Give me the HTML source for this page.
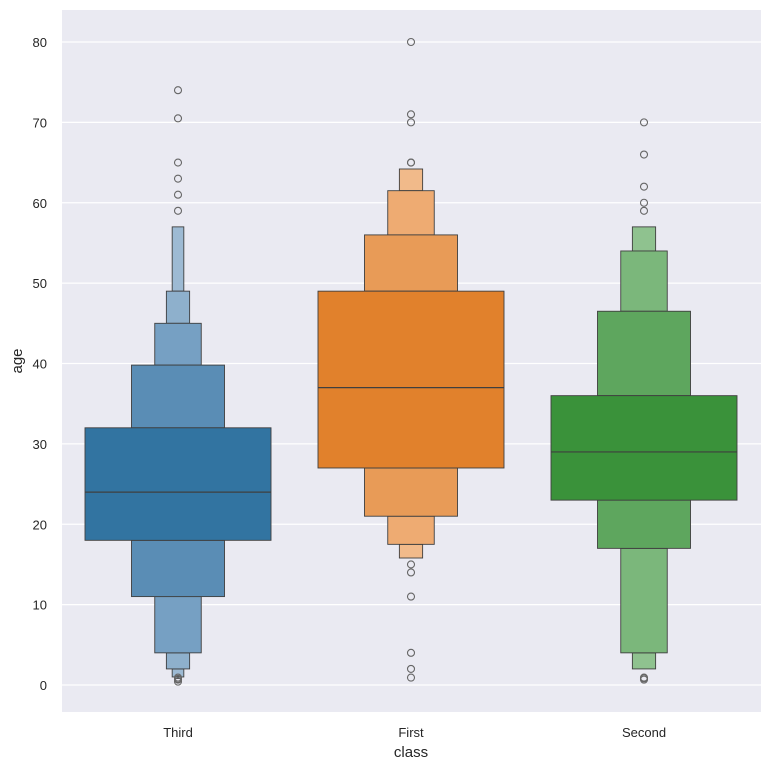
<!DOCTYPE html>
<html><head><meta charset="utf-8"><style>
body{margin:0;background:#fff;font-family:"Liberation Sans","DejaVu Sans",sans-serif}
svg text{font-family:"Liberation Sans","DejaVu Sans",sans-serif;fill:#262626}
</style></head><body>
<svg id="chart" width="771" height="771" xmlns="http://www.w3.org/2000/svg">
<rect x="62" y="10" width="699" height="702" fill="#eaeaf2"/>
<g id="grid"></g>
<g id="boxes"></g>
<g id="axes"></g>
<text transform="translate(22,361) rotate(-90)" text-anchor="middle" font-size="15">age</text>
<text x="411" y="757" text-anchor="middle" font-size="15">class</text>
</svg>
<script>
const categories = ["Third","First","Second"];
const yTicks = [0,10,20,30,40,50,60,70,80];
// levels: [low, high] pairs from widest (level 0) outward
const levelsThird = [[18,32],[11,39.8],[4,45],[2,49],[1,57],[0.8,1]];
const levelsFirst = [[27,49],[21,56],[17.5,61.5],[15.8,64.2]];
const levelsSecond = [[23,36],[17,46.5],[4,54],[2,57]];
const medians = [24,37,29];
const outliersThird = [74,70.5,65,63,61,59,0.92,0.75,0.67,0.42];
const outliersFirst = [80,71,70,65,65,15,14,11,4,2,0.92];
const outliersSecond = [70,66,62,60,59,0.92,0.83,0.67];
const colorsThird = ["#3274a1","#5a8db5","#76a0c3","#8eb0cc","#9dbad3","#a9c3d9"];
const colorsFirst = ["#e1812c","#e89b57","#eeab72","#f1ba8a"];
const colorsSecond = ["#3a923a","#5ea65e","#7bb77b","#8fc28f"];

const NS="http://www.w3.org/2000/svg";
const y0=685, pxPerUnit=(685-42)/80;
const yScale=v=>y0-v*pxPerUnit;
const xScale=i=>178+i*233;
const fullW=186;
function mk(tag,attrs,parent){const e=document.createElementNS(NS,tag);for(const k in attrs)e.setAttribute(k,attrs[k]);parent.appendChild(e);return e;}
const grid=document.getElementById('grid'),axes=document.getElementById('axes'),boxes=document.getElementById('boxes');
yTicks.forEach(t=>{
  const l=mk('line',{x1:62,x2:761,y1:yScale(t),y2:yScale(t),stroke:'#fff','stroke-width':1.2},grid);
  
  
  const tx=mk('text',{x:47,y:yScale(t)+5,'text-anchor':'end','font-size':13},axes);
  tx.textContent=t;
  
  
});
categories.forEach((c,i)=>{
  const tx=mk('text',{x:xScale(i),y:737,'text-anchor':'middle','font-size':13},axes);
  tx.textContent=c;
  
  
});
const allLevels=[levelsThird,levelsFirst,levelsSecond];
const allColors=[colorsThird,colorsFirst,colorsSecond];
const allOut=[outliersThird,outliersFirst,outliersSecond];
allLevels.forEach((lv,i)=>{
  const cx=xScale(i);
  for(let k=lv.length-1;k>=0;k--){
    const w=fullW/Math.pow(2,k);
    const [lo,hi]=lv[k];
    const col=allColors[i][Math.min(k,allColors[i].length-1)];
    if(k===0){
      const r=mk('rect',{x:cx-w/2,y:yScale(hi),width:w,height:yScale(lo)-yScale(hi),fill:col,stroke:'#3f3f3f','stroke-width':0.9},boxes);
      
      
    } else {
      const [plo,phi]=lv[k-1];
      const r1=mk('rect',{x:cx-w/2,y:yScale(hi),width:w,height:yScale(phi)-yScale(hi),fill:col,stroke:'#3f3f3f','stroke-width':0.9},boxes);
      
      
      const r2=mk('rect',{x:cx-w/2,y:yScale(plo),width:w,height:yScale(lo)-yScale(plo),fill:col,stroke:'#3f3f3f','stroke-width':0.9},boxes);
      
      
    }
  }
  const m=mk('line',{x1:cx-fullW/2,x2:cx+fullW/2,y1:yScale(medians[i]),y2:yScale(medians[i]),stroke:'#3f3f3f','stroke-width':1.2},boxes);
  
  
  allOut[i].forEach(v=>{
    const o=mk('circle',{cx:cx,cy:yScale(v),r:3.5,fill:'none',stroke:'#666','stroke-width':1.1},boxes);
    
    
  });
});
</script>
</body></html>
